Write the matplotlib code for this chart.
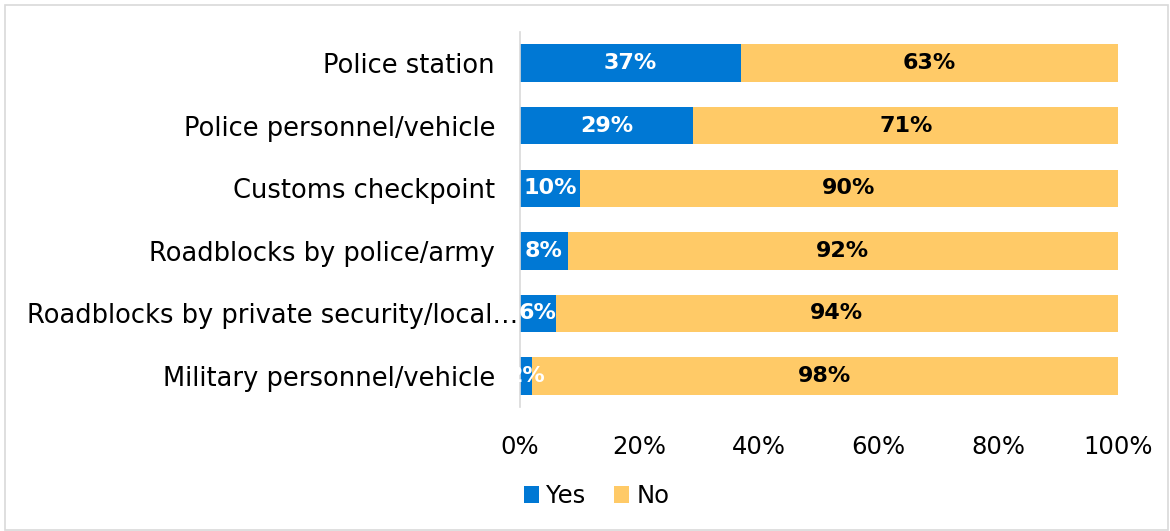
import matplotlib
matplotlib.use("Agg")
import matplotlib.pyplot as plt
from matplotlib.patches import Rectangle
from matplotlib.transforms import ScaledTranslation

categories = ["Military personnel/vehicle", "Roadblocks by private security/local\u2026",
              "Roadblocks by police/army", "Customs checkpoint",
              "Police personnel/vehicle", "Police station"]
yes = [2, 6, 8, 10, 29, 37]
no = [98, 94, 92, 90, 71, 63]
ticks = [0, 20, 40, 60, 80, 100]

blue = "#0078D4"
yellow = "#FFCA67"

plt.rcParams["font.family"] = ["DejaVu Sans"]

fig = plt.figure(figsize=(11.7, 5.31), dpi=100)
ax = fig.add_axes([0.4445, 0.233, 0.511, 0.707])

pos = range(len(categories))
ax.barh(pos, yes, height=0.6, color=blue, label="Yes")
ax.barh(pos, no, left=yes, height=0.6, color=yellow, label="No")

for i in pos:
    ax.text(yes[i] / 2, i, f"{yes[i]}%", ha="center", va="center",
            color="white", fontsize=16, fontweight="bold")
    ax.text(yes[i] + no[i] / 2, i, f"{no[i]}%", ha="center", va="center",
            color="black", fontsize=16, fontweight="bold")

ax.set_xlim(0, 100)
ax.set_ylim(-0.5, 5.5)
ax.set_yticks(list(pos))
ax.set_yticklabels(categories, fontsize=18.5)
ax.set_xticks(ticks)
ax.set_xticklabels([f"{t}%" for t in ticks], fontsize=17.5)
ax.tick_params(axis="both", length=0)
ax.tick_params(axis="y", pad=18)
ax.tick_params(axis="x", pad=20)

# the truncated label runs right up to the axis line
long_lbl = ax.get_yticklabels()[1]
long_lbl.set_transform(long_lbl.get_transform() + ScaledTranslation(0.23, 0, fig.dpi_scale_trans))

for s in ["top", "right", "bottom"]:
    ax.spines[s].set_visible(False)
ax.spines["left"].set_color("#D9D9D9")
ax.spines["left"].set_linewidth(1.2)

fig.legend(loc="center", bbox_to_anchor=(0.51, 0.065), ncol=2, frameon=False,
           fontsize=17.5, handlelength=0.6, handleheight=0.7, handletextpad=0.3,
           columnspacing=1.2)

fig.patches.append(Rectangle((0.004, 0.002), 0.994, 0.988, transform=fig.transFigure,
                             fill=False, edgecolor="#D9D9D9", linewidth=1.2))

fig.savefig("out.png", dpi=100)
